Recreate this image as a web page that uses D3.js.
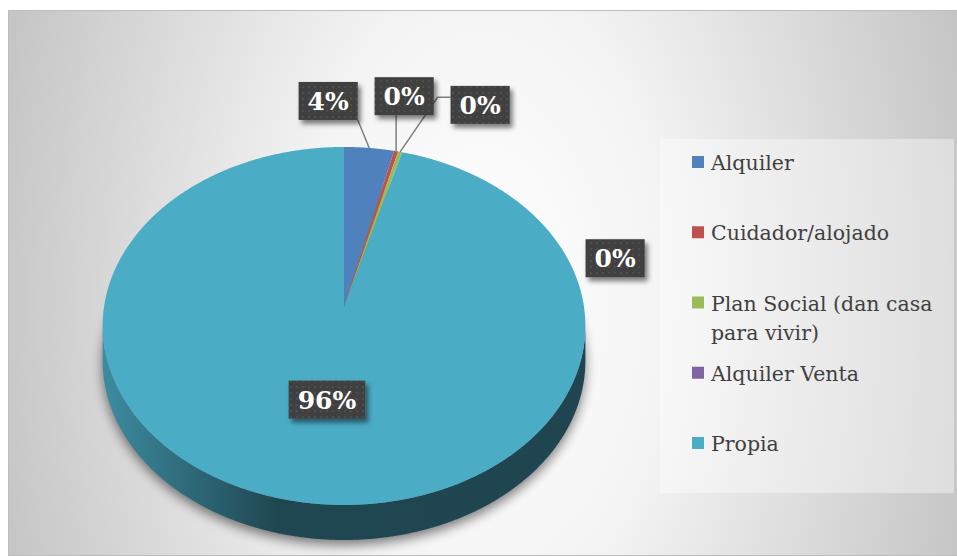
<!DOCTYPE html>
<html>
<head>
<meta charset="utf-8">
<script src="https://cdn.jsdelivr.net/npm/d3@7"></script>
<style>
  html, body { margin: 0; padding: 0; background: #fff; }
  svg { display: block; }
</style>
</head>
<body>
<div id="chart"></div>
<script>
(function() {
    'use strict';

    // Tenencia de la vivienda (%)
    var categories = ['Alquiler', 'Cuidador/alojado', 'Plan Social (dan casa para vivir)', 'Alquiler Venta', 'Propia'];
    var legendLines = [['Alquiler'], ['Cuidador/alojado'], ['Plan Social (dan casa', 'para vivir)'], ['Alquiler Venta'], ['Propia']];
    var values = [3.7, 0.3, 0.3, 0, 95.7];
    var colors = ['#4f81bd', '#c0504d', '#9bbb59', '#8064a2', '#4bacc6'];
    // where Excel pushed each label box, relative to the slice rim point (null = inside)
    var labelOffsets = [[-41, -47], [8, -55], [80, -47], [213, 106], null];

    var serif = "'DejaVu Serif', 'Liberation Serif', Tinos, serif";

    var width = 957, height = 556;
    var total = d3.sum(values);
    var fmt = d3.format('.0%');

    // 3D pie: tilted disc with a bit of perspective
    var cx = 344, cy = 307, R = 240, A = 177, P = 0.106, depth = 35;
    function proj(theta, f) {
        var s = Math.sin(theta) * f, c = Math.cos(theta) * f;
        var k = 1 + P * c;
        return [cx + R * s / k, cy - A * c / k];
    }
    function arcPts(a0, a1, f, dy) {
        var n = Math.max(2, Math.ceil((a1 - a0) / 0.005));
        var pts = [];
        for (var i = 0; i <= n; i++) {
            var p = proj(a0 + (a1 - a0) * i / n, f);
            pts.push([p[0], p[1] + (dy || 0)]);
        }
        return pts;
    }
    var line = d3.line();

    var svg = d3.select('#chart').append('svg')
        .attr('width', width)
        .attr('height', height);

    var defs = svg.append('defs');

    var bg = defs.append('radialGradient')
        .attr('id', 'bg')
        .attr('gradientUnits', 'userSpaceOnUse')
        .attr('cx', 484).attr('cy', 300).attr('r', 520)
        .attr('gradientTransform', 'translate(484,300) scale(1,1.7) translate(-484,-300)');
    bg.append('stop').attr('offset', 0).attr('stop-color', '#ffffff');
    bg.append('stop').attr('offset', 0.35).attr('stop-color', '#f4f4f4');
    bg.append('stop').attr('offset', 1).attr('stop-color', '#c2c2c2');

    var shadow = defs.append('filter').attr('id', 'pieShadow')
        .attr('x', '-20%').attr('y', '-20%').attr('width', '140%').attr('height', '140%');
    shadow.append('feGaussianBlur').attr('stdDeviation', 6);

    var boxShadow = defs.append('filter').attr('id', 'boxShadow')
        .attr('x', '-30%').attr('y', '-30%').attr('width', '160%').attr('height', '170%');
    boxShadow.append('feDropShadow')
        .attr('dx', 3).attr('dy', 4).attr('stdDeviation', 2.5)
        .attr('flood-color', '#000').attr('flood-opacity', 0.5);

    var dots = defs.append('pattern').attr('id', 'dots')
        .attr('patternUnits', 'userSpaceOnUse')
        .attr('width', 6).attr('height', 6);
    dots.append('rect').attr('width', 6).attr('height', 6).attr('fill', '#3f3f3f');
    dots.append('circle').attr('cx', 3).attr('cy', 3).attr('r', 0.9).attr('fill', '#545454');

    // chart area
    svg.append('rect')
        .attr('x', 8.5).attr('y', 10.5)
        .attr('width', 952).attr('height', 545)
        .attr('fill', 'url(#bg)')
        .attr('stroke', '#bdbdbd');

    var pie = d3.pie().sort(null).value(function(d) { return d; });
    var arcs = pie(values);

    var g = svg.append('g');

    // soft shadow under the disc
    g.append('path')
        .attr('d', line(arcPts(0, 2 * Math.PI, 1, depth + 5)) + 'Z')
        .attr('fill', '#000')
        .attr('opacity', 0.5)
        .attr('filter', 'url(#pieShadow)');

    // visible side wall lies between the silhouette angles
    var sideA = Math.acos(-P), sideB = 2 * Math.PI - sideA;

    arcs.forEach(function(d, i) {
        var a0 = Math.max(d.startAngle, sideA), a1 = Math.min(d.endAngle, sideB);
        if (a1 <= a0) return;
        var gid = 'side' + i;
        var c = d3.rgb(colors[i]);
        var grad = defs.append('linearGradient').attr('id', gid)
            .attr('gradientUnits', 'userSpaceOnUse')
            .attr('x1', cx - R).attr('x2', cx + R).attr('y1', 0).attr('y2', 0);
        grad.append('stop').attr('offset', 0).attr('stop-color', c.darker(0.6));
        grad.append('stop').attr('offset', 0.36).attr('stop-color', c.darker(2.5));
        grad.append('stop').attr('offset', 1).attr('stop-color', c.darker(2.55));
        var top = arcPts(a0, a1, 1, 0);
        var bot = arcPts(a0, a1, 1, depth).reverse();
        g.append('path')
            .attr('d', line(top.concat(bot)) + 'Z')
            .attr('fill', 'url(#' + gid + ')');
    });

    // top faces
    g.selectAll('.slice')
        .data(arcs)
        .join('path')
        .attr('class', 'slice')
        .attr('d', function(d) {
            if (d.endAngle - d.startAngle <= 0) return null;
            return line([[cx, cy]].concat(arcPts(d.startAngle, d.endAngle, 1, 0))) + 'Z';
        })
        .attr('fill', function(d, i) { return colors[i]; });

    // data labels
    var padX = 9, boxH = 38;
    var lbl = svg.append('g');
    arcs.forEach(function(d, i) {
        var mid = (d.startAngle + d.endAngle) / 2;
        var text = fmt(d.value / total);
        var off = labelOffsets[i];
        var center;
        var rim = proj(mid, 1);
        if (off) center = [rim[0] + off[0], rim[1] + off[1]];
        else center = proj(mid, 0.5);

        var t = lbl.append('text')
            .attr('font-family', serif)
            .attr('font-weight', 'bold')
            .attr('font-size', 25)
            .attr('fill', '#fff')
            .text(text);
        var tw = t.node().getComputedTextLength();
        var w = tw + padX * 2;
        var x0 = center[0] - w / 2, y0 = center[1] - boxH / 2;
        var x1 = x0 + w, y1 = y0 + boxH;

        // leader line back to the rim
        if (off && d.value > 0) {
            var pts;
            if (rim[0] < x0 - 20) {
                var ya = y0 + boxH * 0.3;
                pts = [[x0, ya], [x0 - 13, ya], rim];
            } else if (rim[0] > x1 + 20) {
                var yb = y0 + boxH * 0.3;
                pts = [[x1, yb], [x1 + 13, yb], rim];
            } else {
                pts = [[Math.max(x0, Math.min(x1, rim[0])), Math.max(y0, Math.min(y1, rim[1]))], rim];
            }
            lbl.insert('path', 'text')
                .attr('d', line(pts))
                .attr('fill', 'none')
                .attr('stroke', '#7f7f7f')
                .attr('stroke-width', 1.5);
        }

        lbl.insert('rect', 'text:last-of-type')
            .attr('x', x0).attr('y', y0)
            .attr('width', w).attr('height', boxH)
            .attr('fill', 'url(#dots)')
            .attr('filter', 'url(#boxShadow)');
        t.attr('x', center[0]).attr('y', center[1] + 9).attr('text-anchor', 'middle');
    });

    // legend
    svg.append('rect')
        .attr('x', 660).attr('y', 139)
        .attr('width', 294).attr('height', 354)
        .attr('fill', '#fff').attr('opacity', 0.4);

    var ly = d3.scalePoint().domain(categories).range([162, 443]);
    var items = svg.append('g').selectAll('g')
        .data(categories)
        .join('g')
        .attr('transform', function(d) { return 'translate(692,' + ly(d) + ')'; });
    items.append('rect')
        .attr('x', 0).attr('y', -6)
        .attr('width', 12).attr('height', 12)
        .attr('fill', function(d, i) { return colors[i]; });
    items.append('text')
        .attr('font-family', serif)
        .attr('font-size', 20.5)
        .attr('fill', '#404040')
        .attr('x', 19).attr('y', 8)
        .selectAll('tspan')
        .data(function(d, i) { return legendLines[i]; })
        .join('tspan')
        .attr('x', 19)
        .attr('dy', function(d, j) { return j ? 29 : 0; })
        .text(function(d) { return d; });
})();
</script>
</body>
</html>
